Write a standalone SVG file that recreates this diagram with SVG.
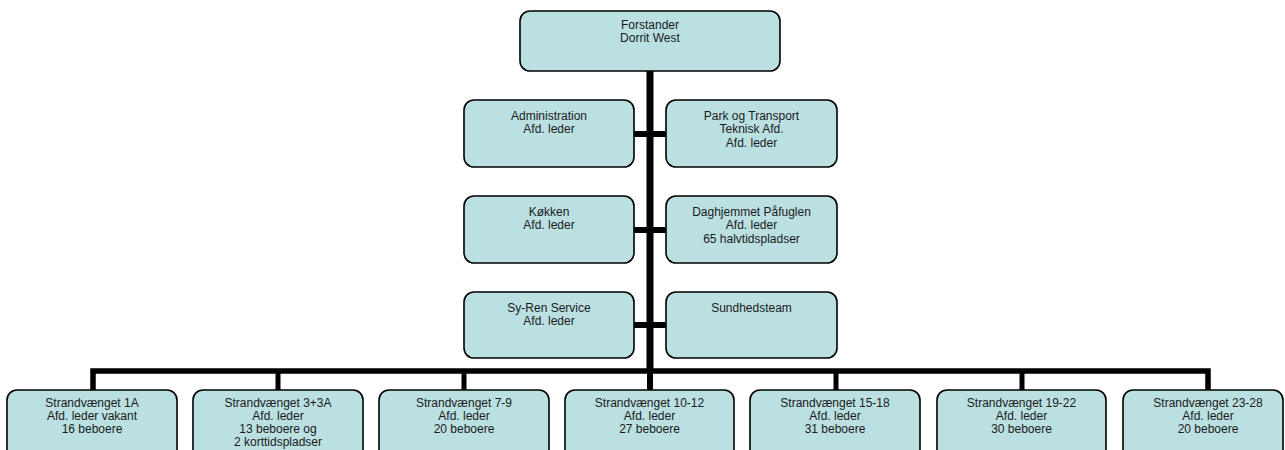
<svg xmlns="http://www.w3.org/2000/svg" width="1285" height="450" viewBox="0 0 1285 450">
<style>
.box{fill:#bae0e2;stroke:#000;stroke-width:1.6}
.t{font-family:"Liberation Sans",Arial,sans-serif;font-size:12px;fill:#1a1a1a;text-anchor:middle}
.c{stroke:#000;fill:none}
</style>
<rect width="1285" height="450" fill="#fff"/>
<g id="connectors">
<line class="c" x1="650" y1="70" x2="650" y2="372" stroke-width="7"/>
<line class="c" x1="634" y1="134" x2="666" y2="134" stroke-width="6"/>
<line class="c" x1="634" y1="230" x2="666" y2="230" stroke-width="6"/>
<line class="c" x1="634" y1="325" x2="666" y2="325" stroke-width="6"/>
<polyline class="c" points="93,390 93,371 1208,371 1208,390" stroke-width="5.5"/>
<line class="c" x1="278" y1="371" x2="278" y2="390" stroke-width="5"/>
<line class="c" x1="464" y1="371" x2="464" y2="390" stroke-width="5"/>
<line class="c" x1="650" y1="371" x2="650" y2="390" stroke-width="6"/>
<line class="c" x1="836" y1="371" x2="836" y2="390" stroke-width="5"/>
<line class="c" x1="1022" y1="371" x2="1022" y2="390" stroke-width="5"/>
</g>
<g id="forstander">
<rect class="box" x="520" y="11" width="260" height="60" rx="10"/>
<text class="t" x="650" y="29">Forstander</text>
<text class="t" x="650" y="42">Dorrit West</text>
</g>
<g id="administration">
<rect class="box" x="464" y="100" width="170" height="67" rx="10"/>
<text class="t" x="549" y="120">Administration</text>
<text class="t" x="549" y="133">Afd. leder</text>
</g>
<g id="park">
<rect class="box" x="666" y="100" width="171" height="67" rx="10"/>
<text class="t" x="751.5" y="120">Park og Transport</text>
<text class="t" x="751.5" y="133">Teknisk Afd.</text>
<text class="t" x="751.5" y="147">Afd. leder</text>
</g>
<g id="koekken">
<rect class="box" x="464" y="196" width="170" height="67" rx="10"/>
<text class="t" x="549" y="216">Køkken</text>
<text class="t" x="549" y="229">Afd. leder</text>
</g>
<g id="daghjemmet">
<rect class="box" x="666" y="196" width="171" height="67" rx="10"/>
<text class="t" x="751.5" y="216">Daghjemmet Påfuglen</text>
<text class="t" x="751.5" y="229">Afd. leder</text>
<text class="t" x="751.5" y="243">65 halvtidspladser</text>
</g>
<g id="syren">
<rect class="box" x="464" y="292" width="170" height="66" rx="10"/>
<text class="t" x="549" y="312">Sy-Ren Service</text>
<text class="t" x="549" y="325">Afd. leder</text>
</g>
<g id="sundhedsteam">
<rect class="box" x="666" y="292" width="171" height="66" rx="10"/>
<text class="t" x="751.5" y="312">Sundhedsteam</text>
</g>
<g id="sv1a">
<rect class="box" x="7" y="390" width="170" height="75" rx="10"/>
<text class="t" x="92" y="407">Strandvænget 1A</text>
<text class="t" x="92" y="420">Afd. leder vakant</text>
<text class="t" x="92" y="433">16 beboere</text>
</g>
<g id="sv3">
<rect class="box" x="193" y="390" width="170" height="75" rx="10"/>
<text class="t" x="278" y="407">Strandvænget 3+3A</text>
<text class="t" x="278" y="420">Afd. leder</text>
<text class="t" x="278" y="433">13 beboere og</text>
<text class="t" x="278" y="446">2 korttidspladser</text>
</g>
<g id="sv7">
<rect class="box" x="379" y="390" width="170" height="75" rx="10"/>
<text class="t" x="464" y="407">Strandvænget 7-9</text>
<text class="t" x="464" y="420">Afd. leder</text>
<text class="t" x="464" y="433">20 beboere</text>
</g>
<g id="sv10">
<rect class="box" x="565" y="390" width="169" height="75" rx="10"/>
<text class="t" x="649.5" y="407">Strandvænget 10-12</text>
<text class="t" x="649.5" y="420">Afd. leder</text>
<text class="t" x="649.5" y="433">27 beboere</text>
</g>
<g id="sv15">
<rect class="box" x="750" y="390" width="170" height="75" rx="10"/>
<text class="t" x="835" y="407">Strandvænget 15-18</text>
<text class="t" x="835" y="420">Afd. leder</text>
<text class="t" x="835" y="433">31 beboere</text>
</g>
<g id="sv19">
<rect class="box" x="937" y="390" width="169" height="75" rx="10"/>
<text class="t" x="1021.5" y="407">Strandvænget 19-22</text>
<text class="t" x="1021.5" y="420">Afd. leder</text>
<text class="t" x="1021.5" y="433">30 beboere</text>
</g>
<g id="sv23">
<rect class="box" x="1123" y="390" width="160" height="75" rx="10"/>
<text class="t" x="1208" y="407">Strandvænget 23-28</text>
<text class="t" x="1208" y="420">Afd. leder</text>
<text class="t" x="1208" y="433">20 beboere</text>
</g>
</svg>
